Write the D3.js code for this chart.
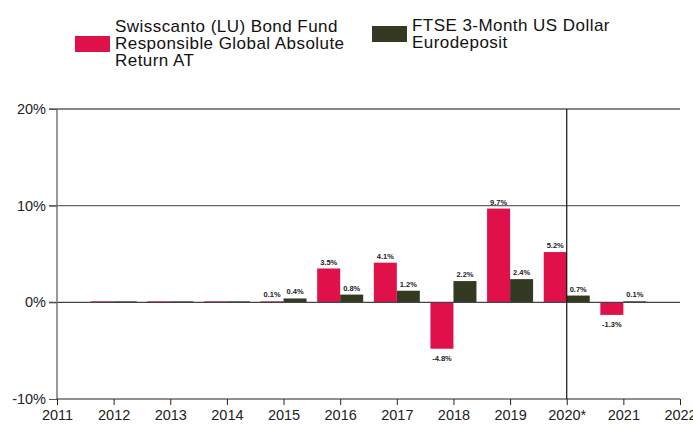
<!DOCTYPE html>
<html><head><meta charset="utf-8">
<script src="https://cdn.jsdelivr.net/npm/d3@7"></script>
<style>body{margin:0;background:#fff}svg{display:block;font-family:"Liberation Sans",Arial,sans-serif}</style>
</head><body><svg id="c" width="693" height="425"></svg>
<script>
const years = [2012, 2013, 2014, 2015, 2016, 2017, 2018, 2019, 2020, 2021];
const fund = [0, 0, 0, 0.1, 3.5, 4.1, -4.8, 9.7, 5.2, -1.3];
const bench = [0, 0, 0, 0.4, 0.8, 1.2, 2.2, 2.4, 0.7, 0.1];
const showLabel = [false, false, false, true, true, true, true, true, true, true];
const xTicks = [2011, 2012, 2013, 2014, 2015, 2016, 2017, 2018, 2019, 2020, 2021, 2022];
const xTickLabels = ["2011","2012","2013","2014","2015","2016","2017","2018","2019","2020*","2021","2022"];
const yTicks = [-10, 0, 10, 20];
const seriesNames = [["Swisscanto (LU) Bond Fund","Responsible Global Absolute","Return AT"],["FTSE 3-Month US Dollar","Eurodeposit"]];
const colors = ["#E0104A", "#333A21"];

const svg = d3.select("#c");
const x = d3.scaleLinear().domain([2011, 2022]).range([57, 680]);
const y = d3.scaleLinear().domain([-10, 20]).range([399, 109]);
const bw = 23;
const fmt = v => v.toFixed(1) + "%";

// gridlines
svg.append("g").selectAll("line").data([20, 10]).join("line")
  .attr("x1", 49).attr("x2", 680).attr("y1", d => y(d)).attr("y2", d => y(d))
  .attr("stroke", d => d === 20 ? "#111" : "#666").attr("stroke-width", 1.2);

// bars
const g = svg.append("g");
years.forEach((yr, i) => {
  [fund[i], bench[i]].forEach((v, s) => {
    const x0 = s === 0 ? x(yr) - bw : x(yr);
    const h = Math.max(Math.abs(y(v) - y(0)), 1);
    g.append("rect").attr("x", x0).attr("width", bw)
      .attr("y", v >= 0 ? y(0) - h : y(0)).attr("height", h)
      .attr("fill", colors[s]);
    if (showLabel[i]) {
      g.append("text").attr("x", x0 + bw / 2)
        .attr("y", v >= 0 ? y(v) - 4 : y(v) + 12)
        .attr("text-anchor", "middle").attr("font-size", 7.5).attr("font-weight", "bold")
        .attr("fill", "#222").text(fmt(v));
    }
  });
});

// zero line
svg.append("line").attr("x1", 49).attr("x2", 680).attr("y1", y(0)).attr("y2", y(0))
  .attr("stroke", "#444").attr("stroke-width", 1.2);

// vertical line at 2020
svg.append("line").attr("x1", x(2020)).attr("x2", x(2020)).attr("y1", y(20)).attr("y2", y(-10))
  .attr("stroke", "#111").attr("stroke-width", 1.2);

// y axis
const yAxis = svg.append("g").attr("transform", `translate(${x(2011)},0)`)
  .call(d3.axisLeft(y).tickValues(yTicks).tickSize(8).tickFormat(d => d + "%"));
yAxis.select(".domain").attr("stroke", "#777").attr("stroke-width", 1.5).attr("d", `M0,${y(20)}V${y(-10)}`);
yAxis.selectAll(".tick line").attr("stroke", "#555");
yAxis.selectAll("text").attr("font-size", 14.5).attr("fill", "#222").attr("font-family", "Liberation Sans, Arial, sans-serif").attr("x", -11);

// x axis
const xAxis = svg.append("g").attr("transform", `translate(0,${y(-10)})`)
  .call(d3.axisBottom(x).tickValues(xTicks).tickSize(6).tickFormat((d, i) => xTickLabels[i]));
xAxis.select(".domain").attr("stroke", "#222").attr("stroke-width", 1.2).attr("d", `M${x(2011)},0H${x(2022)}`);
xAxis.selectAll(".tick line").attr("stroke", "#222");
xAxis.selectAll("text").attr("font-size", 14.5).attr("fill", "#222").attr("font-family", "Liberation Sans, Arial, sans-serif").attr("y", 11);

// legend
const leg = svg.append("g");
leg.append("rect").attr("x", 75).attr("y", 36).attr("width", 35).attr("height", 16).attr("fill", colors[0]);
leg.append("text").attr("x", 115).attr("y", 32).attr("font-size", 17).attr("letter-spacing", 0.45).attr("fill", "#111")
  .selectAll("tspan").data(seriesNames[0]).join("tspan").attr("x", 115).attr("dy", (d, i) => i ? 17 : 0).text(d => d);
leg.append("rect").attr("x", 372).attr("y", 26).attr("width", 35).attr("height", 16).attr("fill", colors[1]);
leg.append("text").attr("x", 412).attr("y", 31).attr("font-size", 17).attr("letter-spacing", 0.45).attr("fill", "#111")
  .selectAll("tspan").data(seriesNames[1]).join("tspan").attr("x", 412).attr("dy", (d, i) => i ? 16.5 : 0).text(d => d);
</script></body></html>
